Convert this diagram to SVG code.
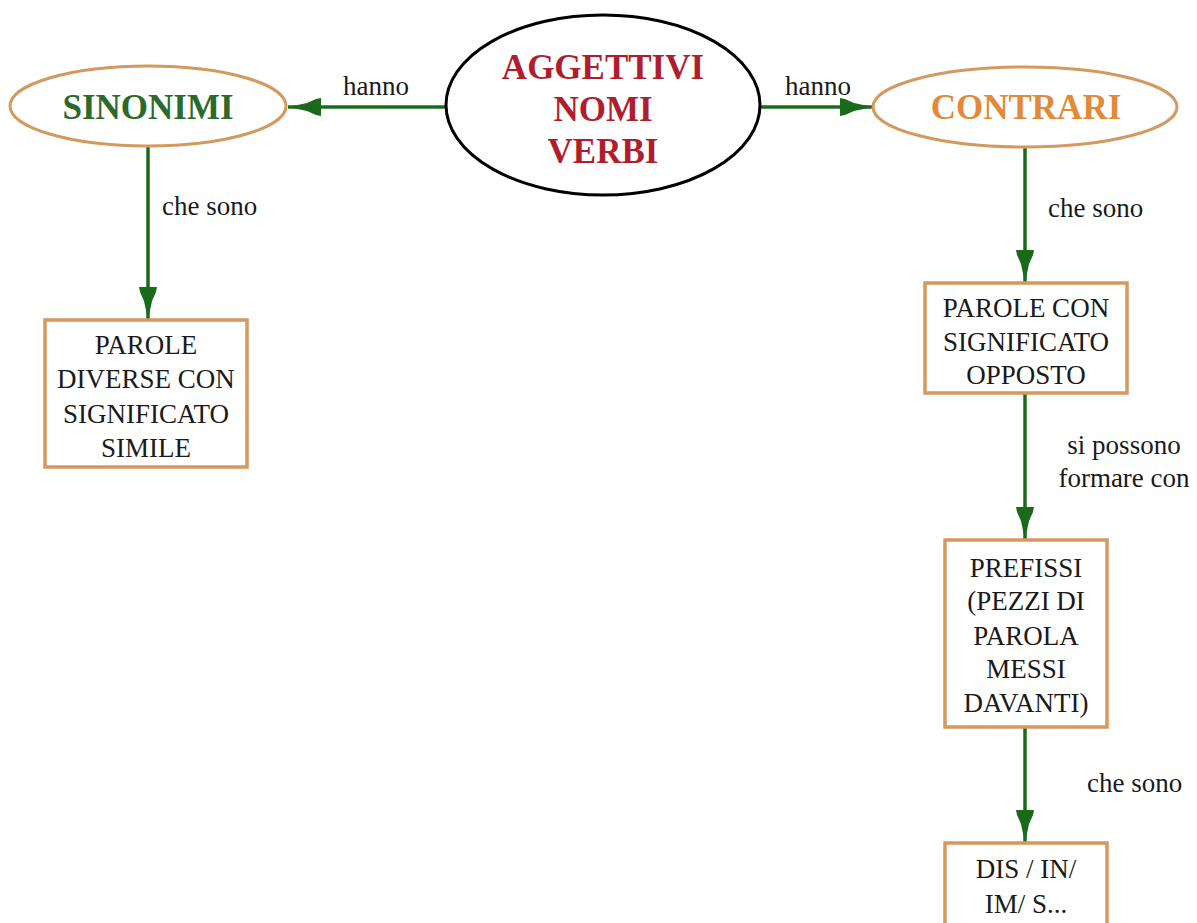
<svg xmlns="http://www.w3.org/2000/svg" width="1197" height="923" viewBox="0 0 1197 923">
<style>
.bg{fill:#ffffff}
.oval{fill:#ffffff;stroke:#d4995e;stroke-width:3}
.main{fill:#ffffff;stroke:#000000;stroke-width:3}
.box{fill:#ffffff;stroke:#d4995e;stroke-width:3.5}
.title{font-weight:bold;font-size:35px;text-anchor:middle}
.txt{font-size:27px;fill:#1a1a1a;text-anchor:middle}
.lbl{font-size:27px;fill:#1a1a1a}
.conn{fill:none;stroke:#1b6a1b;stroke-width:3.5}
</style>
<defs>
<marker id="arr" viewBox="0 -10 34 20" refX="33" refY="0" markerWidth="34" markerHeight="20" markerUnits="userSpaceOnUse" orient="auto">
<path d="M0,-9 L5,-8 L14,-4 L33,0 L14,4 L5,8 L0,9 Z" fill="#1b6a1b"/>
</marker>
</defs>
<rect class="bg" x="0" y="0" width="1197" height="923"/>
<g id="connectors" font-family="'Liberation Serif', 'DejaVu Serif', serif">
<path class="conn" d="M445,107 L288,107" marker-end="url(#arr)"/>
<path class="conn" d="M761,107 L873,107" marker-end="url(#arr)"/>
<path class="conn" d="M148,146 L148,320" marker-end="url(#arr)"/>
<path class="conn" d="M1025,148 L1025,283" marker-end="url(#arr)"/>
<path class="conn" d="M1025,393 L1025,540" marker-end="url(#arr)"/>
<path class="conn" d="M1025,727 L1025,843" marker-end="url(#arr)"/>
<text class="lbl" x="376" y="95" text-anchor="middle">hanno</text>
<text class="lbl" x="818" y="95" text-anchor="middle">hanno</text>
<text class="lbl" x="162" y="215">che sono</text>
<text class="lbl" x="1048" y="217">che sono</text>
<text class="lbl" x="1124" y="454" text-anchor="middle">si possono</text>
<text class="lbl" x="1124" y="487" text-anchor="middle">formare con</text>
<text class="lbl" x="1087" y="792">che sono</text>
</g>
<g id="sinonimi" font-family="'Liberation Serif', 'DejaVu Serif', serif">
<ellipse class="oval" cx="148" cy="106" rx="138" ry="40"/>
<text class="title" x="148" y="119" fill="#2b6a2b">SINONIMI</text>
</g>
<g id="centro" font-family="'Liberation Serif', 'DejaVu Serif', serif">
<ellipse class="main" cx="603" cy="105" rx="157" ry="90"/>
<text class="title" x="603" y="79" fill="#b01e2e">AGGETTIVI</text>
<text class="title" x="603" y="121" fill="#b01e2e">NOMI</text>
<text class="title" x="603" y="163" fill="#b01e2e">VERBI</text>
</g>
<g id="contrari" font-family="'Liberation Serif', 'DejaVu Serif', serif">
<ellipse class="oval" cx="1025" cy="107" rx="152" ry="40"/>
<text class="title" x="1026" y="119" fill="#e08a3a">CONTRARI</text>
</g>
<g id="parole-simile" font-family="'Liberation Serif', 'DejaVu Serif', serif">
<rect class="box" x="45" y="320" width="202" height="147"/>
<text class="txt" x="146" y="354">PAROLE</text>
<text class="txt" x="146" y="388">DIVERSE CON</text>
<text class="txt" x="146" y="423">SIGNIFICATO</text>
<text class="txt" x="146" y="457">SIMILE</text>
</g>
<g id="parole-opposto" font-family="'Liberation Serif', 'DejaVu Serif', serif">
<rect class="box" x="925" y="283" width="202" height="110"/>
<text class="txt" x="1026" y="317">PAROLE CON</text>
<text class="txt" x="1026" y="351">SIGNIFICATO</text>
<text class="txt" x="1026" y="384">OPPOSTO</text>
</g>
<g id="prefissi" font-family="'Liberation Serif', 'DejaVu Serif', serif">
<rect class="box" x="945" y="540" width="162" height="187"/>
<text class="txt" x="1026" y="577">PREFISSI</text>
<text class="txt" x="1026" y="610">(PEZZI DI</text>
<text class="txt" x="1026" y="645">PAROLA</text>
<text class="txt" x="1026" y="678">MESSI</text>
<text class="txt" x="1026" y="712">DAVANTI)</text>
</g>
<g id="esempi" font-family="'Liberation Serif', 'DejaVu Serif', serif">
<rect class="box" x="945" y="843" width="162" height="95"/>
<text class="txt" x="1026" y="878">DIS / IN/</text>
<text class="txt" x="1026" y="913">IM/ S...</text>
</g>
</svg>
